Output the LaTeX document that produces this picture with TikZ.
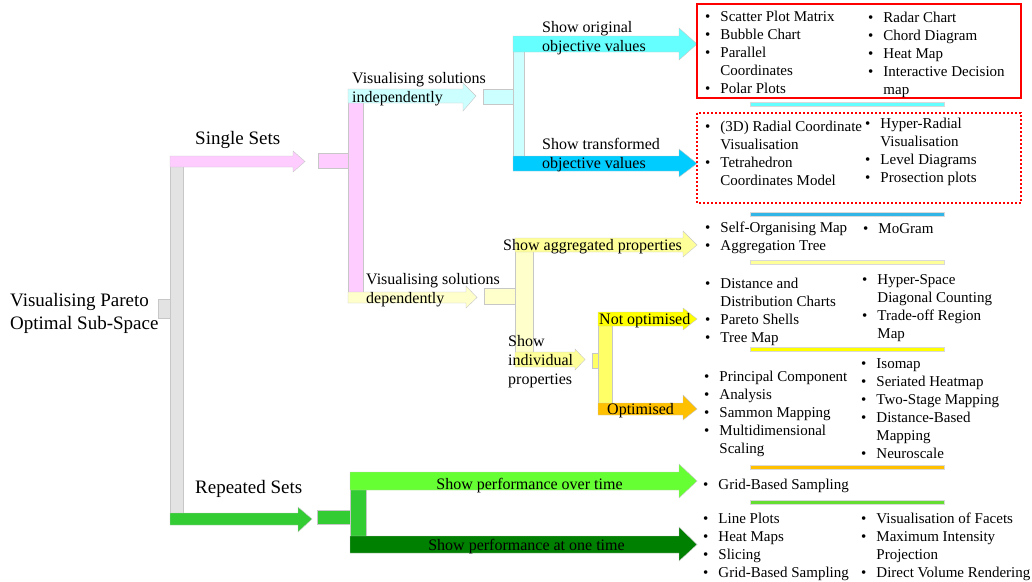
\documentclass[tikz,border=0pt]{standalone}
\usepackage{fontspec}
\setmainfont{Liberation Serif}

\definecolor{pinkA}{HTML}{FFCCFF}
\definecolor{greyA}{HTML}{E3E3E3}
\definecolor{cyanL}{HTML}{CCFFFF}
\definecolor{cyanA}{HTML}{66FFFF}
\definecolor{blueA}{HTML}{00CCFF}
\definecolor{yelL}{HTML}{FFFFCC}
\definecolor{yelA}{HTML}{FFFF99}
\definecolor{yelB}{HTML}{FFFF66}
\definecolor{yelC}{HTML}{FFFF00}
\definecolor{amber}{HTML}{FFC000}
\definecolor{greenA}{HTML}{33CC33}
\definecolor{greenL}{HTML}{66FF33}
\definecolor{greenD}{HTML}{008000}
\definecolor{lineblue}{HTML}{33B5E5}
\definecolor{linegreen}{HTML}{66DD33}

\newcommand{\rootfont}{\fontsize{19}{23}\selectfont}
\newcommand{\midfont}{\fontsize{16}{19}\selectfont}
\newcommand{\listfont}{\fontsize{15}{18}\selectfont}
\newcommand{\bl}{\textbullet}

% fill colour, x start, x head, x tip, shaft top, shaft bottom, head top, head bottom
\newcommand{\fatarrow}[8]{%
  \filldraw[fill=#1, draw=black!22] (#2,#5) -- (#3,#5) -- (#3,#7) -- (#4,{(#5+#6)/2})
    -- (#3,#8) -- (#3,#6) -- (#2,#6) -- cycle;}

\begin{document}
\begin{tikzpicture}[x=1pt, y=-1pt]
  \tikzstyle{bar}=[draw=black!22, line width=0.5pt]
  \tikzstyle{lbl}=[inner sep=0pt, anchor=west, align=left, font=\midfont, yshift=-1.5pt]
  \tikzstyle{lst}=[inner sep=0pt, anchor=north west, font=\listfont, yshift=-1.2pt]
  \useasboundingbox (0,0) rectangle (1032,581);

  % root
  \filldraw[bar, fill=greyA] (158,299) rectangle (170,318);
  \filldraw[bar, fill=greyA] (170,160) rectangle (183,518);
  \fatarrow{pinkA}{170}{293}{305}{156}{167}{151}{172}
  \fatarrow{greenA}{170}{298}{312}{513}{525}{507}{532}
  \node[lbl, font=\rootfont] (root) at (10,311.5) {Visualising Pareto\\Optimal Sub-Space};
  \node[lbl, font=\rootfont] (single) at (195,138) {Single Sets};
  \node[lbl, font=\rootfont] (repeated) at (195,487) {Repeated Sets};

  % single sets
  \filldraw[bar, fill=pinkA] (318,153) rectangle (348,168);
  \filldraw[bar, fill=pinkA] (348,96) rectangle (363,297);
  \fatarrow{cyanL}{348}{463}{476}{89}{103}{83}{111}
  \fatarrow{yelL}{348}{466}{477}{292}{303}{286}{308}
  \node[lbl] (indep) at (352,88) {Visualising solutions\\independently};
  \node[lbl] (dep) at (366,289) {Visualising solutions\\dependently};

  % independently
  \filldraw[bar, fill=cyanL] (483,89) rectangle (513,104);
  \filldraw[bar, fill=cyanL] (513,44) rectangle (524,164);
  \fatarrow{cyanA}{513}{679}{697}{36}{52}{28}{60}
  \fatarrow{blueA}{513}{679}{697}{156}{171}{149}{177}
  \node[lbl] (orig) at (542,37) {Show original\\objective values};
  \node[lbl] (trans) at (542,154) {Show transformed\\objective values};

  % dependently
  \filldraw[bar, fill=yelL] (484,288) rectangle (515,304);
  \filldraw[bar, fill=yelL] (515,245) rectangle (533,360);
  \fatarrow{yelA}{515}{683}{697}{238}{252}{231}{257}
  \fatarrow{yelA}{515}{575}{585}{352}{367}{349}{370}
  \node[lbl] (aggr) at (503,245) {Show aggregated properties};
  \node[lbl] (indiv) at (508,360) {Show\\individual\\properties};

  % individual properties
  \filldraw[bar, fill=yelB] (592,353) rectangle (598,368);
  \filldraw[bar, fill=yelB] (598,318) rectangle (612,409);
  \fatarrow{yelC}{598}{683}{697}{312}{326}{308}{330}
  \fatarrow{amber}{598}{683}{697}{403}{415}{395}{420}
  \node[lbl] (notopt) at (599,319) {Not optimised};
  \node[lbl] (opt) at (607,409) {Optimised};

  % repeated sets
  \filldraw[bar, fill=greenA] (317,510) rectangle (350,524);
  \filldraw[bar, fill=greenA] (350,481) rectangle (366,544);
  \fatarrow{greenL}{350}{679}{697}{472}{490}{464}{498}
  \fatarrow{greenD}{350}{679}{697}{536}{553}{527}{561}
  \node[lbl, anchor=center] (overtime) at (529.5,484) {Show performance over time};
  \node[lbl, anchor=center] (onetime) at (526.5,545) {Show performance at one time};

  % separators
  \foreach \y/\c in {104/cyanA, 214/lineblue, 262/yelA, 349/yelC, 467/amber, 502/linegreen}
  {
    \filldraw[fill=\c, draw=black!15, line width=0.3pt] (750,\y-2) rectangle (944,\y+2);
  }

  % boxes
  \draw[red, line width=2.5pt] (697,4) rectangle (1021,98);
  \draw[red, line width=2.5pt, dash pattern=on 2pt off 2pt] (697,113) rectangle (1021,203);

  % lists
  \node[lst] (origL) at (705,7) {\begin{tabular}{@{}l@{\hspace{10pt}}l@{}}
    \bl & Scatter Plot Matrix\\ \bl & Bubble Chart\\ \bl & Parallel\\ & Coordinates\\ \bl & Polar Plots
  \end{tabular}};
  \node[lst] (origR) at (868,8) {\begin{tabular}{@{}l@{\hspace{10pt}}l@{}}
    \bl & Radar Chart\\ \bl & Chord Diagram\\ \bl & Heat Map\\ \bl & Interactive Decision\\ & map
  \end{tabular}};
  \node[lst] (transL) at (705,117) {\begin{tabular}{@{}l@{\hspace{10pt}}l@{}}
    \bl & (3D) Radial Coordinate\\ & Visualisation\\ \bl & Tetrahedron\\ & Coordinates Model
  \end{tabular}};
  \node[lst] (transR) at (865,114) {\begin{tabular}{@{}l@{\hspace{10pt}}l@{}}
    \bl & Hyper-Radial\\ & Visualisation\\ \bl & Level Diagrams\\ \bl & Prosection plots
  \end{tabular}};
  \node[lst] (aggrL) at (705,218) {\begin{tabular}{@{}l@{\hspace{10pt}}l@{}}
    \bl & Self-Organising Map\\ \bl & Aggregation Tree
  \end{tabular}};
  \node[lst] (aggrR) at (863,219) {\begin{tabular}{@{}l@{\hspace{10pt}}l@{}}
    \bl & MoGram
  \end{tabular}};
  \node[lst] (notoptL) at (705,274) {\begin{tabular}{@{}l@{\hspace{10pt}}l@{}}
    \bl & Distance and\\ & Distribution Charts\\ \bl & Pareto Shells\\ \bl & Tree Map
  \end{tabular}};
  \node[lst] (notoptR) at (862,270) {\begin{tabular}{@{}l@{\hspace{10pt}}l@{}}
    \bl & Hyper-Space\\ & Diagonal Counting\\ \bl & Trade-off Region\\ & Map
  \end{tabular}};
  \node[lst] (optL) at (704,367) {\begin{tabular}{@{}l@{\hspace{10pt}}l@{}}
    \bl & Principal Component\\ \bl & Analysis\\ \bl & Sammon Mapping\\ \bl & Multidimensional\\ & Scaling
  \end{tabular}};
  \node[lst] (optR) at (861,354) {\begin{tabular}{@{}l@{\hspace{10pt}}l@{}}
    \bl & Isomap\\ \bl & Seriated Heatmap\\ \bl & Two-Stage Mapping\\ \bl & Distance-Based\\ & Mapping\\ \bl & Neuroscale
  \end{tabular}};
  \node[lst] (overtimeL) at (703,475) {\begin{tabular}{@{}l@{\hspace{10pt}}l@{}}
    \bl & Grid-Based Sampling
  \end{tabular}};
  \node[lst] (onetimeL) at (703,509) {\begin{tabular}{@{}l@{\hspace{10pt}}l@{}}
    \bl & Line Plots\\ \bl & Heat Maps\\ \bl & Slicing\\ \bl & Grid-Based Sampling
  \end{tabular}};
  \node[lst] (onetimeR) at (861,509) {\begin{tabular}{@{}l@{\hspace{10pt}}l@{}}
    \bl & Visualisation of Facets\\ \bl & Maximum Intensity\\ & Projection\\ \bl & Direct Volume Rendering
  \end{tabular}};
\end{tikzpicture}
\end{document}
